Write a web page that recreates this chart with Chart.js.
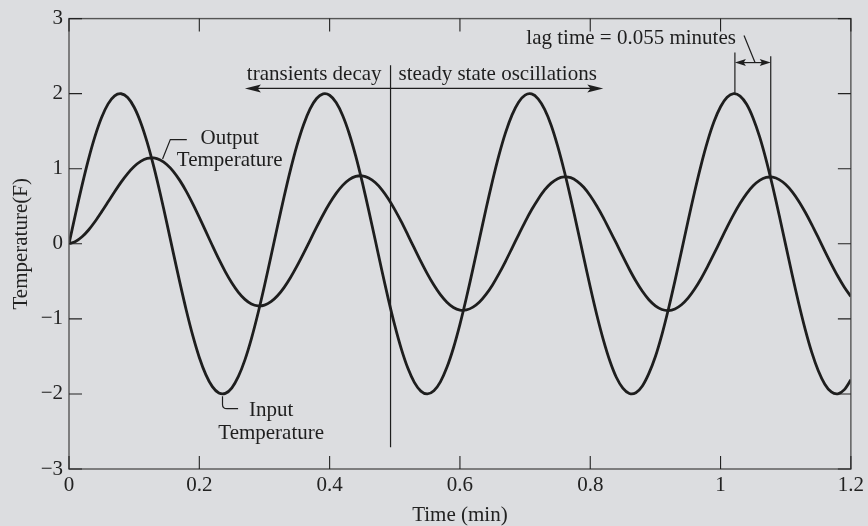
<!DOCTYPE html>
<html><head><meta charset="utf-8">
<script src="https://cdn.jsdelivr.net/npm/chart.js@4.4.1/dist/chart.umd.min.js"></script>
<style>html,body{margin:0;padding:0;background:#dcdde0;}#wrap{width:868px;height:526px;}</style>
</head><body><div id="wrap"><canvas id="c" width="868" height="526"></canvas></div>
<script>
const time = [0,0.01,0.02,0.03,0.04,0.05,0.06,0.07,0.08,0.09,
0.10,0.11,0.12,0.13,0.14,0.15,0.16,0.17,0.18,0.19,
0.20,0.21,0.22,0.23,0.24,0.25,0.26,0.27,0.28,0.29,
0.30,0.31,0.32,0.33,0.34,0.35,0.36,0.37,0.38,0.39,
0.40,0.41,0.42,0.43,0.44,0.45,0.46,0.47,0.48,0.49,
0.50,0.51,0.52,0.53,0.54,0.55,0.56,0.57,0.58,0.59,
0.60,0.61,0.62,0.63,0.64,0.65,0.66,0.67,0.68,0.69,
0.70,0.71,0.72,0.73,0.74,0.75,0.76,0.77,0.78,0.79,
0.80,0.81,0.82,0.83,0.84,0.85,0.86,0.87,0.88,0.89,
0.90,0.91,0.92,0.93,0.94,0.95,0.96,0.97,0.98,0.99,
1.00,1.01,1.02,1.03,1.04,1.05,1.06,1.07,1.08,1.09,
1.10,1.11,1.12,1.13,1.14,1.15,1.16,1.17,1.18,1.19,
1.20];
const inputTemp = [0,0.397,0.779,1.129,1.435,1.683,1.864,1.971,1.999,1.948,
1.819,1.617,1.351,1.031,0.670,0.282,-0.117,-0.511,-0.885,-1.224,
-1.514,-1.743,-1.903,-1.987,-1.992,-1.918,-1.767,-1.546,-1.263,-0.929,
-0.559,-0.166,0.233,0.623,0.988,1.314,1.587,1.797,1.936,1.997,
1.979,1.881,1.709,1.469,1.170,0.824,0.446,0.050,-0.349,-0.733,
-1.088,-1.400,-1.656,-1.846,-1.962,-2.000,-1.958,-1.839,-1.646,-1.388,
-1.073,-0.716,-0.331,0.067,0.463,0.840,1.184,1.481,1.718,1.887,
1.981,1.996,1.931,1.790,1.580,1.301,0.973,0.607,0.216,-0.183,
-0.576,-0.945,-1.276,-1.558,-1.778,-1.923,-1.994,-1.984,-1.894,-1.727,
-1.502,-1.210,-0.869,-0.494,-0.099,0.300,0.687,1.046,1.364,1.628,
1.826,1.952,2.000,1.968,1.858,1.673,1.424,1.115,0.763,0.380,
-0.018,-0.415,-0.795,-1.143,-1.447,-1.692,-1.870,-1.974,-1.998,-1.943,
-1.811];
const outputTemp = [0.000,0.030,0.093,0.184,0.297,0.425,0.559,0.694,0.822,0.936,
1.030,1.098,1.137,1.144,1.117,1.057,0.966,0.845,0.699,0.532,
0.352,0.165,-0.023,-0.205,-0.373,-0.522,-0.646,-0.740,-0.801,-0.826,
-0.816,-0.771,-0.692,-0.583,-0.449,-0.295,-0.128,0.047,0.221,0.387,
0.539,0.671,0.778,0.854,0.897,0.905,0.878,0.816,0.723,0.601,
0.456,0.294,0.119,-0.059,-0.235,-0.401,-0.550,-0.678,-0.778,-0.849,
-0.883,-0.881,-0.844,-0.776,-0.675,-0.548,-0.398,-0.233,-0.057,0.120,
0.293,0.453,0.594,0.717,0.808,0.868,0.891,0.881,0.833,0.753,
0.640,0.503,0.349,0.178,0.008,-0.169,-0.339,-0.496,-0.633,-0.745,
-0.826,-0.875,-0.889,-0.868,-0.812,-0.724,-0.606,-0.465,-0.304,-0.132,
0.045,0.221,0.388,0.539,0.669,0.773,0.845,0.884,0.887,0.855,
0.789,0.692,0.568,0.420,0.256,0.081,-0.097,-0.270,-0.433,-0.579,
-0.702];
const xTickLabels = ['0','0.2','0.4','0.6','0.8','1','1.2'];
const yTickLabels = ['\u22123','\u22122','\u22121','0','1','2','3'];
const seriesNames = ['Input Temperature','Output Temperature'];

const FONT = '"Liberation Serif", "Times New Roman", serif';
const INK = '#1e1e1e';

const decor = {
  id: 'decor',
  afterDraw(chart) {
    const ctx = chart.ctx, a = chart.chartArea;
    const xs = chart.scales.x, ys = chart.scales.y;
    const X = v => xs.getPixelForValue(v), Y = v => ys.getPixelForValue(v);
    ctx.save();
    ctx.strokeStyle = '#555';
    ctx.lineWidth = 1.4;
    ctx.strokeRect(a.left, a.top, a.right - a.left, a.bottom - a.top);
    ctx.strokeStyle = '#222';
    ctx.lineWidth = 1.1;
    const TL = 13;
    xs.ticks.forEach(t => {
      const p = X(t.value);
      ctx.beginPath();
      ctx.moveTo(p, a.bottom); ctx.lineTo(p, a.bottom - TL);
      ctx.moveTo(p, a.top); ctx.lineTo(p, a.top + TL);
      ctx.stroke();
    });
    ys.ticks.forEach(t => {
      const p = Y(t.value);
      ctx.beginPath();
      ctx.moveTo(a.left, p); ctx.lineTo(a.left + TL, p);
      ctx.moveTo(a.right, p); ctx.lineTo(a.right - TL, p);
      ctx.stroke();
    });

    ctx.strokeStyle = INK; ctx.fillStyle = INK; ctx.lineWidth = 1.2;
    const seg = (x1, y1, x2, y2) => { ctx.beginPath(); ctx.moveTo(x1, y1); ctx.lineTo(x2, y2); ctx.stroke(); };
    const head = (x, y, dir, len, hw) => {
      ctx.beginPath(); ctx.moveTo(x, y);
      ctx.lineTo(x - dir * len, y - hw);
      ctx.lineTo(x - dir * len * 0.8, y);
      ctx.lineTo(x - dir * len, y + hw);
      ctx.closePath(); ctx.fill();
    };

    const dx = X(0.4935);
    seg(dx, Y(2.38), dx, Y(-2.71));
    const ay = Y(2.07);
    const axl = X(0.27), axr = X(0.82);
    seg(axl + 8, ay, axr - 8, ay);
    head(axl, ay, -1, 16, 4);
    head(axr, ay, 1, 16, 4);

    ctx.font = '21px ' + FONT;
    ctx.textBaseline = 'alphabetic';
    ctx.textAlign = 'right';
    ctx.fillText('transients decay', dx - 9, Y(2.18));
    ctx.textAlign = 'left';
    ctx.fillText('steady state oscillations', dx + 8, Y(2.18));

    ctx.fillText('lag time = 0.055 minutes', X(0.7019), Y(2.656));
    const lx1 = X(1.022), lx2 = X(1.077);
    seg(lx1, Y(2.55), lx1, Y(2.0));
    seg(lx2, Y(2.50), lx2, Y(0.89));
    const ly = Y(2.414);
    seg(lx1 + 6, ly, lx2 - 6, ly);
    head(lx1, ly, -1, 11, 3.5);
    head(lx2, ly, 1, 11, 3.5);
    seg(X(1.036), Y(2.775), X(1.0529), Y(2.414));

    ctx.textAlign = 'center';
    ctx.fillText('Output', X(0.2467), Y(1.335));
    ctx.fillText('Temperature', X(0.2467), Y(1.04));
    ctx.beginPath();
    ctx.moveTo(X(0.1808), Y(1.388));
    ctx.lineTo(X(0.1555), Y(1.388));
    ctx.lineTo(X(0.1436), Y(1.13));
    ctx.stroke();

    ctx.fillText('Input', X(0.3103), Y(-2.298));
    ctx.fillText('Temperature', X(0.3103), Y(-2.603));
    ctx.beginPath();
    ctx.moveTo(X(0.2356), Y(-2.03));
    ctx.lineTo(X(0.2356), Y(-2.14));
    ctx.quadraticCurveTo(X(0.2356), Y(-2.196), X(0.2425), Y(-2.196));
    ctx.lineTo(X(0.2595), Y(-2.196));
    ctx.stroke();

    ctx.restore();
  }
};

const tickFont = { family: FONT, size: 21, lineHeight: 1.2 };

new Chart(document.getElementById('c'), {
  type: 'line',
  data: {
    datasets: [
      { label: seriesNames[0], data: time.map((t, i) => ({ x: t, y: inputTemp[i] })),
        borderColor: INK, borderWidth: 2.8, pointRadius: 0, tension: 0.3, fill: false },
      { label: seriesNames[1], data: time.map((t, i) => ({ x: t, y: outputTemp[i] })),
        borderColor: INK, borderWidth: 2.8, pointRadius: 0, tension: 0.3, fill: false }
    ]
  },
  options: {
    responsive: false,
    animation: false,
    devicePixelRatio: 1,
    layout: { padding: { left: 0, right: 16, top: 16, bottom: 0 } },
    plugins: { legend: { display: false }, tooltip: { enabled: false } },
    scales: {
      x: {
        type: 'linear', min: 0, max: 1.2,
        grid: { display: false, drawTicks: false },
        border: { display: false },
        ticks: { stepSize: 0.2, color: '#222', font: tickFont, padding: 4, maxRotation: 0,
          callback: (v, i) => xTickLabels[i] },
        title: { display: true, text: 'Time (min)', color: '#222',
          font: { family: FONT, size: 21, lineHeight: 1 }, padding: { top: 0, bottom: 0 } },
        afterFit: s => { s.height = 57; }
      },
      y: {
        type: 'linear', min: -3, max: 3,
        grid: { display: false, drawTicks: false },
        border: { display: false },
        ticks: { stepSize: 1, color: '#222', font: tickFont, padding: 6,
          callback: (v, i) => yTickLabels[i] },
        title: { display: true, text: 'Temperature(F)', color: '#222',
          font: { family: FONT, size: 21, lineHeight: 1 }, padding: { top: 10.5, bottom: 0 } },
        afterFit: s => { s.width = 69; }
      }
    }
  },
  plugins: [decor]
});
</script>
</body></html>
